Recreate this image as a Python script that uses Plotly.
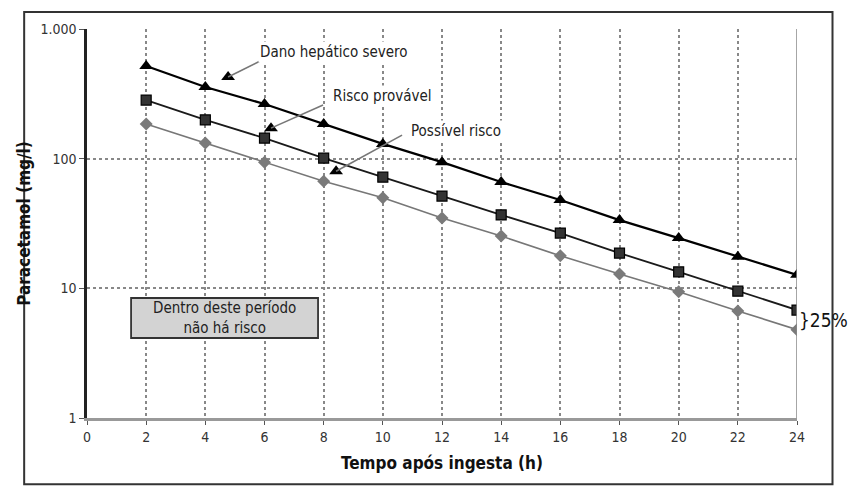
import math
import plotly.graph_objects as go

hours = [2, 4, 6, 8, 10, 12, 14, 16, 18, 20, 22, 24]
severo = [519, 357, 264, 185, 130, 94, 66, 48, 33.6, 24.4, 17.5, 12.7]
provavel = [283, 199, 144, 101, 72, 51.5, 36.8, 26.7, 18.7, 13.4, 9.5, 6.8]
possivel = [185, 132, 94, 67, 50, 34.9, 25.3, 17.8, 12.9, 9.4, 6.7, 4.8]

x_ticks = list(range(0, 25, 2))
y_tickvals = [1, 10, 100, 1000]
y_ticktext = ["1", "10", "100", "1.000"]

# labels: (text, text_x, text_y, line_start_x, line_start_y, head_x, head_y)
labels = [
    ("Dano hepático severo", 8.35, 665, 5.92, 576, 4.77, 426),
    ("Risco provável", 9.97, 304, 7.98, 259, 6.22, 172),
    ("Possível risco", 12.47, 163, 10.65, 152, 8.42, 80),
]

FONT = "Liberation Sans Narrow, DejaVu Sans Condensed, Arial Narrow, sans-serif"

fig = go.Figure()
fig.add_trace(go.Scatter(x=hours, y=possivel, mode="lines+markers",
                         line=dict(color="#777777", width=1.6),
                         marker=dict(symbol="diamond", size=10, color="#7a7a7a")))
fig.add_trace(go.Scatter(x=hours, y=provavel, mode="lines+markers",
                         line=dict(color="#1a1a1a", width=1.8),
                         marker=dict(symbol="square", size=10, color="#333333",
                                     line=dict(color="#000", width=1.2))))
fig.add_trace(go.Scatter(x=hours, y=severo, mode="lines+markers",
                         line=dict(color="#000000", width=2.2),
                         marker=dict(symbol="triangle-up", size=12, color="#000")))

# arrow heads as triangle markers
fig.add_trace(go.Scatter(x=[l[5] for l in labels], y=[l[6] for l in labels],
                         mode="markers",
                         marker=dict(symbol="triangle-up", size=12, color="#000")))

shapes = []
annotations = []
for text, tx, ty, sx, sy, hx, hy in labels:
    shapes.append(dict(type="line", xref="x", yref="y", x0=sx, y0=sy, x1=hx, y1=hy,
                       line=dict(color="#777777", width=1.6)))
    annotations.append(dict(x=tx, y=math.log10(ty), xref="x", yref="y",
                            text=text, showarrow=False, bgcolor="white",
                            font=dict(family=FONT, size=15, color="#222")))

# safe box
shapes.append(dict(type="rect", xref="x", yref="y", x0=1.49, x1=7.81, y0=4.14, y1=8.42,
                   fillcolor="#d3d3d3", line=dict(color="#333", width=1.8), layer="above"))
annotations.append(dict(x=4.65, y=math.log10(5.95), xref="x", yref="y",
                        text="Dentro deste período<br>não há risco", showarrow=False,
                        font=dict(family=FONT, size=15, color="#222")))

# right border line at 24
shapes.append(dict(type="line", xref="x", yref="paper", x0=24, x1=24, y0=0, y1=1,
                   line=dict(color="#888", width=1.5)))
# outer frame
shapes.append(dict(type="rect", xref="paper", yref="paper", x0=-0.0885, x1=1.05,
                   y0=-0.17, y1=1.044, line=dict(color="#333", width=2)))

# 25% brace
annotations.append(dict(x=24, y=math.log10(5.7), xref="x", yref="y",
                        xanchor="left", xshift=0, text="}25%", showarrow=False,
                        font=dict(family=FONT, size=19, color="#111")))

fig.update_layout(
    width=848, height=487,
    margin=dict(l=87, r=51, t=29, b=69),
    paper_bgcolor="white", plot_bgcolor="white",
    showlegend=False,
    shapes=shapes, annotations=annotations,
    font=dict(family=FONT, color="#222"),
)
fig.update_xaxes(range=[0, 24], tickvals=x_ticks, showgrid=True,
                 gridcolor="#888", griddash="dot", gridwidth=1.5,
                 showline=True, linecolor="#999", linewidth=3,
                 ticks="outside", ticklen=4, tickcolor="#555",
                 tickfont=dict(size=14, family=FONT, color="#333"),
                 title=dict(text="<b>Tempo após ingesta (h)</b>", standoff=14,
                            font=dict(size=17, family=FONT, color="#111")),
                 zeroline=False)
fig.update_yaxes(type="log", range=[0, 3], tickvals=y_tickvals, ticktext=y_ticktext,
                 showgrid=True, gridcolor="#888", griddash="dot", gridwidth=1.5,
                 showline=True, linecolor="#222", linewidth=2.5,
                 ticks="outside", ticklen=5, tickcolor="#555",
                 tickfont=dict(size=14, family=FONT, color="#333"),
                 title=dict(text="<b>Paracetamol (mg/l)</b>", standoff=6,
                            font=dict(size=17, family=FONT, color="#111")))

fig.write_html("out.html")
